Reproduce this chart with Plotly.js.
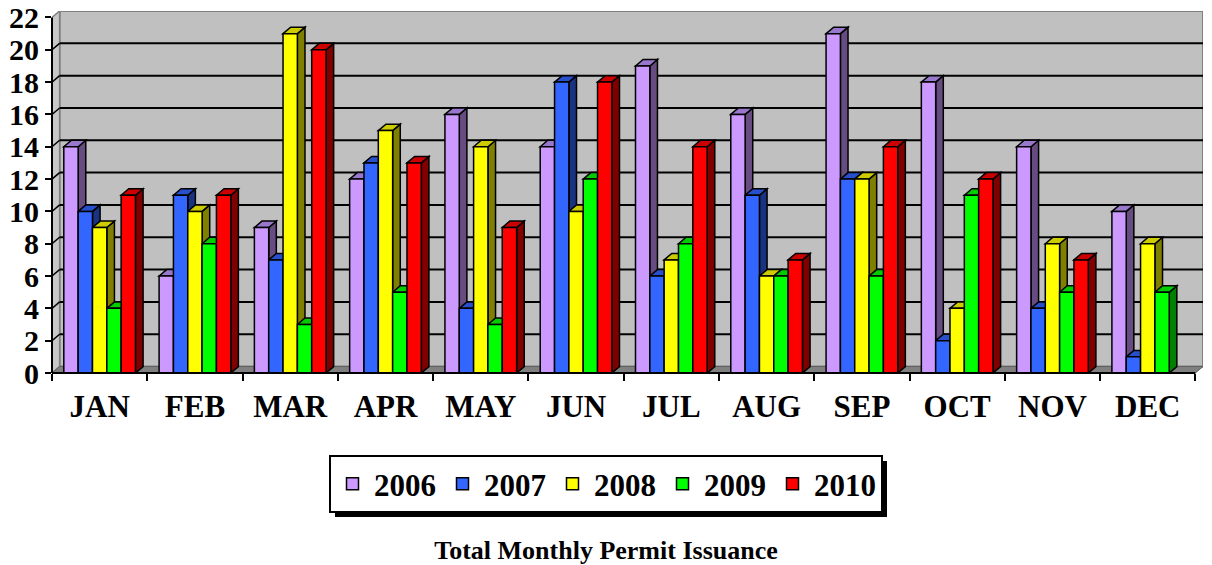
<!DOCTYPE html>
<html>
<head>
<meta charset="utf-8">
<script src="https://cdn.plot.ly/plotly-3.0.1.min.js"></script>
<style>
html,body{margin:0;padding:0;background:#fff;}
#chart{width:1212px;height:565px;}
</style>
</head>
<body>
<div id="chart"></div>
<script>
// ---- data ----
const months = ['JAN','FEB','MAR','APR','MAY','JUN','JUL','AUG','SEP','OCT','NOV','DEC'];
const years = ['2006','2007','2008','2009','2010'];
const y2006 = [14, 6, 9, 12, 16, 14, 19, 16, 21, 18, 14, 10];
const y2007 = [10, 11, 7, 13, 4, 18, 6, 11, 12, 2, 4, 1];
const y2008 = [9, 10, 21, 15, 14, 10, 7, 6, 12, 4, 8, 8];
const y2009 = [4, 8, 3, 5, 3, 12, 8, 6, 6, 11, 5, 5];
const y2010 = [11, 11, 20, 13, 9, 18, 14, 7, 14, 12, 7, null];
const yTicks = [0, 2, 4, 6, 8, 10, 12, 14, 16, 18, 20, 22];

// ---- styles ----
const series = [y2006, y2007, y2008, y2009, y2010];
const frontColors = ['#CC99FF', '#3366FF', '#FFFF00', '#00FF00', '#FF0000'];
const topColors   = ['#9977CC', '#2850CC', '#CCCC00', '#00CC00', '#CC0000'];
const sideColors  = ['#664C80', '#1A3380', '#808000', '#008000', '#800000'];
const FONT = 'Liberation Serif, Times New Roman, serif';
const BARGAP = 0.248;
const DX = 0.08;   // depth in category units
const DY = 0.40;   // depth in value units
const YMAX = 22;
const N = series.length;
const W = (1 - BARGAP) / N;

const xIdx = months.map((_, i) => i);

const traces = series.map((vals, k) => ({
  type: 'bar',
  name: years[k],
  x: xIdx,
  y: vals,
  marker: {color: frontColors[k], line: {color: '#000', width: 1.5}},
  hoverinfo: 'skip'
}));

const shapes = [];
// back wall
shapes.push({type: 'rect', layer: 'between', xref: 'x', yref: 'y',
  x0: -0.5 + DX, x1: months.length - 0.5 + DX, y0: DY, y1: YMAX + DY,
  fillcolor: '#C0C0C0', line: {color: '#808080', width: 2}});
// left wall
shapes.push({type: 'path', layer: 'between', xref: 'x', yref: 'y',
  path: `M-0.5,0 L${-0.5 + DX},${DY} L${-0.5 + DX},${YMAX + DY} L-0.5,${YMAX} Z`,
  fillcolor: '#C8C8C8', line: {color: '#808080', width: 1.5}});
// floor
shapes.push({type: 'path', layer: 'between', xref: 'x', yref: 'y',
  path: `M-0.5,0 L${months.length - 0.5},0 L${months.length - 0.5 + DX},${DY} L${-0.5 + DX},${DY} Z`,
  fillcolor: '#808080', line: {color: '#606060', width: 1}});
// gridlines on the back wall + left wall
yTicks.forEach(v => {
  if (v === 0 || v === YMAX) return;
  shapes.push({type: 'line', layer: 'between', xref: 'x', yref: 'y',
    x0: -0.5 + DX, x1: months.length - 0.5 + DX, y0: v + DY, y1: v + DY,
    line: {color: '#000', width: 2}});
  shapes.push({type: 'line', layer: 'between', xref: 'x', yref: 'y',
    x0: -0.5, x1: -0.5 + DX, y0: v, y1: v + DY,
    line: {color: '#000', width: 1.5}});
});
// 3D faces of the bars
months.forEach((m, i) => {
  series.forEach((vals, k) => {
    const v = vals[i];
    if (v === null || v === undefined) return;
    const xl = i - (1 - BARGAP) / 2 + k * W;
    const xr = xl + W;
    shapes.push({type: 'path', layer: 'between', xref: 'x', yref: 'y',
      path: `M${xr},0 L${xr + DX},${DY} L${xr + DX},${v + DY} L${xr},${v} Z`,
      fillcolor: sideColors[k], line: {color: '#000', width: 1.5}});
    shapes.push({type: 'path', layer: 'between', xref: 'x', yref: 'y',
      path: `M${xl},${v} L${xl + DX},${v + DY} L${xr + DX},${v + DY} L${xr},${v} Z`,
      fillcolor: topColors[k], line: {color: '#000', width: 1.5}});
  });
});
// axis lines (front edges): y from 0 to 22, x across the 12 months
shapes.push({type: 'line', layer: 'above', xref: 'paper', yref: 'y',
  x0: 0, x1: 0, y0: 0, y1: YMAX, line: {color: '#000', width: 2}});
shapes.push({type: 'line', layer: 'above', xref: 'x', yref: 'paper',
  x0: -0.5, x1: months.length - 0.5, y0: 0, y1: 0, line: {color: '#000', width: 2}});

const boundaries = months.map((_, i) => i - 0.5).concat([months.length - 0.5]);

const layout = {
  width: 1212, height: 565,
  margin: {l: 52, r: 9, t: 11, b: 192, pad: 0},
  paper_bgcolor: '#fff',
  plot_bgcolor: '#fff',
  barmode: 'group',
  bargap: BARGAP,
  bargroupgap: 0,
  showlegend: true,
  font: {family: FONT, color: '#000'},
  title: {
    text: 'Total Monthly Permit Issuance',
    font: {family: FONT, size: 26, weight: 'bold', color: '#000'},
    x: 0.5, xref: 'container', xanchor: 'center',
    y: 1 - 550 / 565, yref: 'container', yanchor: 'middle'
  },
  xaxis: {
    type: 'linear',
    range: [-0.5, months.length - 0.5 + DX],
    tickmode: 'array', tickvals: xIdx, ticktext: months,
    ticks: '', showgrid: false, zeroline: false,
    showline: false,
    tickfont: {family: FONT, size: 31, weight: 'bold', color: '#000'},
    ticklabelstandoff: 12,
    minor: {tickmode: 'array', tickvals: boundaries, ticks: 'outside', ticklen: 7,
            tickwidth: 2, tickcolor: '#000', showgrid: false},
    fixedrange: true
  },
  yaxis: {
    range: [0, YMAX + DY],
    tickmode: 'array', tickvals: yTicks,
    ticks: 'outside', ticklen: 6, tickwidth: 2, tickcolor: '#000',
    showgrid: false, zeroline: false,
    showline: false,
    tickfont: {family: FONT, size: 30, weight: 'bold', color: '#000'},
    fixedrange: true
  },
  legend: {
    orientation: 'h',
    x: (606 - 52) / 1151, xanchor: 'center',
    y: (373 - 455) / 362, yanchor: 'top',
    bgcolor: '#fff', bordercolor: '#000', borderwidth: 2,
    font: {family: FONT, size: 31, weight: 'bold', color: '#000'},
    itemwidth: 33,
    traceorder: 'normal'
  },
  shapes: shapes
};

Plotly.newPlot('chart', traces, layout, {staticPlot: true}).then(gd => {
  // drop shadow behind the legend box
  const bg = gd.querySelector('.legend .bg');
  if (!bg) return;
  const r = bg.getBoundingClientRect();
  const c = gd.getBoundingClientRect();
  const fl = gd._fullLayout;
  const pw = fl._size.w, ph = fl._size.h, pl = fl._size.l, pt = fl._size.t;
  const off = 5;
  const toX = px => (px - c.left - pl) / pw;
  const toY = py => 1 - (py - c.top - pt) / ph;
  const shadow = {type: 'rect', layer: 'above', xref: 'paper', yref: 'paper',
    x0: toX(r.left + off), x1: toX(r.right + off),
    y0: toY(r.bottom + off), y1: toY(r.top + off),
    fillcolor: '#000', line: {width: 0}};
  Plotly.relayout(gd, {shapes: shapes.concat([shadow])});
});
</script>
</body>
</html>
